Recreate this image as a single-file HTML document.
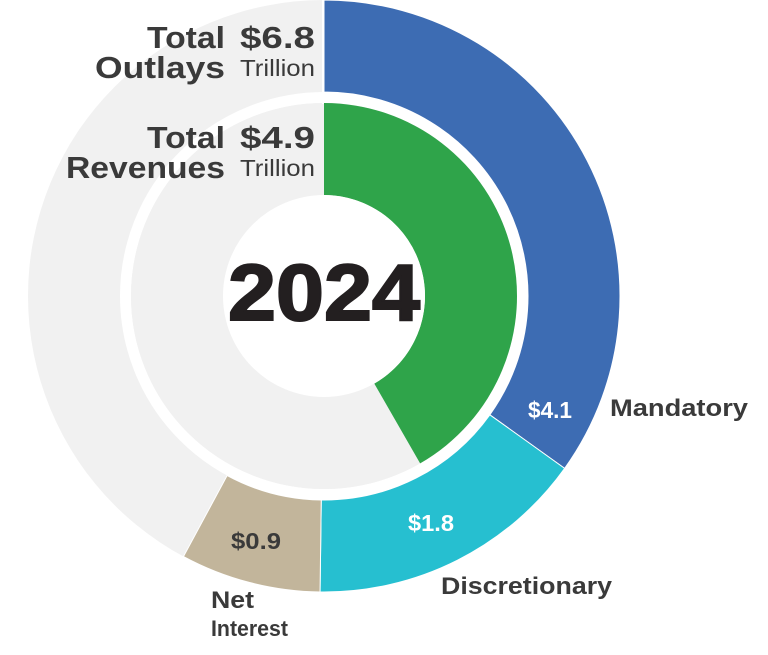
<!DOCTYPE html>
<html><head><meta charset="utf-8"><style>
html,body{margin:0;padding:0;background:#fff;width:768px;height:655px;overflow:hidden}
svg{display:block;font-family:"Liberation Sans",sans-serif}
</style></head><body>
<svg id="c" width="768" height="655" viewBox="0 0 768 655">
<g id="rings"></g>
<text x="228" y="320" textLength="192" lengthAdjust="spacingAndGlyphs" font-size="80" font-weight="bold" fill="#231f20" stroke="#231f20" stroke-width="2">2024</text>
<g font-weight="bold" fill="#3a3a3a">
<text x="147" y="48" textLength="78" lengthAdjust="spacingAndGlyphs" font-size="31">Total</text>
<text x="95" y="78" textLength="130" lengthAdjust="spacingAndGlyphs" font-size="31">Outlays</text>
<text x="240" y="48" textLength="75" lengthAdjust="spacingAndGlyphs" font-size="31">$6.8</text>
<text x="240" y="76" textLength="75" lengthAdjust="spacingAndGlyphs" font-size="23" font-weight="normal">Trillion</text>
</g>
<g font-weight="bold" fill="#3a3a3a">
<text x="147" y="148" textLength="78" lengthAdjust="spacingAndGlyphs" font-size="31">Total</text>
<text x="66" y="178" textLength="159" lengthAdjust="spacingAndGlyphs" font-size="31">Revenues</text>
<text x="240" y="148" textLength="75" lengthAdjust="spacingAndGlyphs" font-size="31">$4.9</text>
<text x="240" y="176" textLength="75" lengthAdjust="spacingAndGlyphs" font-size="23" font-weight="normal">Trillion</text>
</g>
<g id="labels" font-weight="bold"></g>
</svg>
<script>
const categories=["Mandatory","Discretionary","Net Interest"];
const outlays=[4.1,1.8,0.9];
const revenues=[4.9];
const scaleTotal=11.75;
const NS="http://www.w3.org/2000/svg";
const cx=324,cy=296;
const colors=["#3d6cb3","#26bfd0","#c2b59b"];
function ang(v){return v/scaleTotal*2*Math.PI;}
function pt(a,r){return [cx+r*Math.sin(a),cy-r*Math.cos(a)];}
function arc(a0,a1,r0,r1){
 const L=(a1-a0)>Math.PI?1:0;
 const p0=pt(a0,r1),p1=pt(a1,r1),p2=pt(a1,r0),p3=pt(a0,r0);
 return `M${p0}A${r1},${r1} 0 ${L} 1 ${p1}L${p2}A${r0},${r0} 0 ${L} 0 ${p3}Z`;
}
const g=document.getElementById('rings');
function add(tag,attrs){const e=document.createElementNS(NS,tag);for(const k in attrs)e.setAttribute(k,attrs[k]);g.appendChild(e);return e;}
let bg=add('circle',{cx,cy,r:296,fill:'#f1f1f1'});


let a=0;
outlays.forEach((v,i)=>{
 const a1=a+ang(v);
 const p=add('path',{d:arc(a,a1,204,296),fill:colors[i],stroke:'#fff','stroke-width':1});
 
 
 a=a1;
});
let gap=add('circle',{cx,cy,r:198.5,fill:'none',stroke:'#fff','stroke-width':11});


let ib=add('circle',{cx,cy,r:193,fill:'#f1f1f1'});


let rp=add('path',{d:arc(0,ang(revenues[0]),101,193),fill:'#2fa44a'});


let hole=add('circle',{cx,cy,r:101,fill:'#fff'});


let ln=add('line',{x1:cx-1,y1:0,x2:cx-1,y2:104,stroke:'#fff','stroke-width':2});


const lg=document.getElementById('labels');
function txt(x,y,s,size,fill,w,name){const t=document.createElementNS(NS,'text');t.setAttribute('x',x);t.setAttribute('y',y);t.setAttribute('font-size',size);t.setAttribute('fill',fill);t.setAttribute('textLength',w);t.setAttribute('lengthAdjust','spacingAndGlyphs');t.textContent=s;


lg.appendChild(t);}
txt(528,418,'$'+outlays[0],23,'#fff',44,'mandatory-value');
txt(408,531,'$'+outlays[1],23,'#fff',46,'discretionary-value');
txt(231,549,'$'+outlays[2],23,'#3a3a3a',50,'net-interest-value');
txt(610,416,categories[0],24,'#3a3a3a',138,'mandatory-label');
txt(441,594,categories[1],24,'#3a3a3a',171,'discretionary-label');
txt(211,608,'Net',24,'#3a3a3a',43,'net-interest-label-line1');
txt(211,636,'Interest',22,'#3a3a3a',77,'net-interest-label-line2');
</script>
</body></html>
